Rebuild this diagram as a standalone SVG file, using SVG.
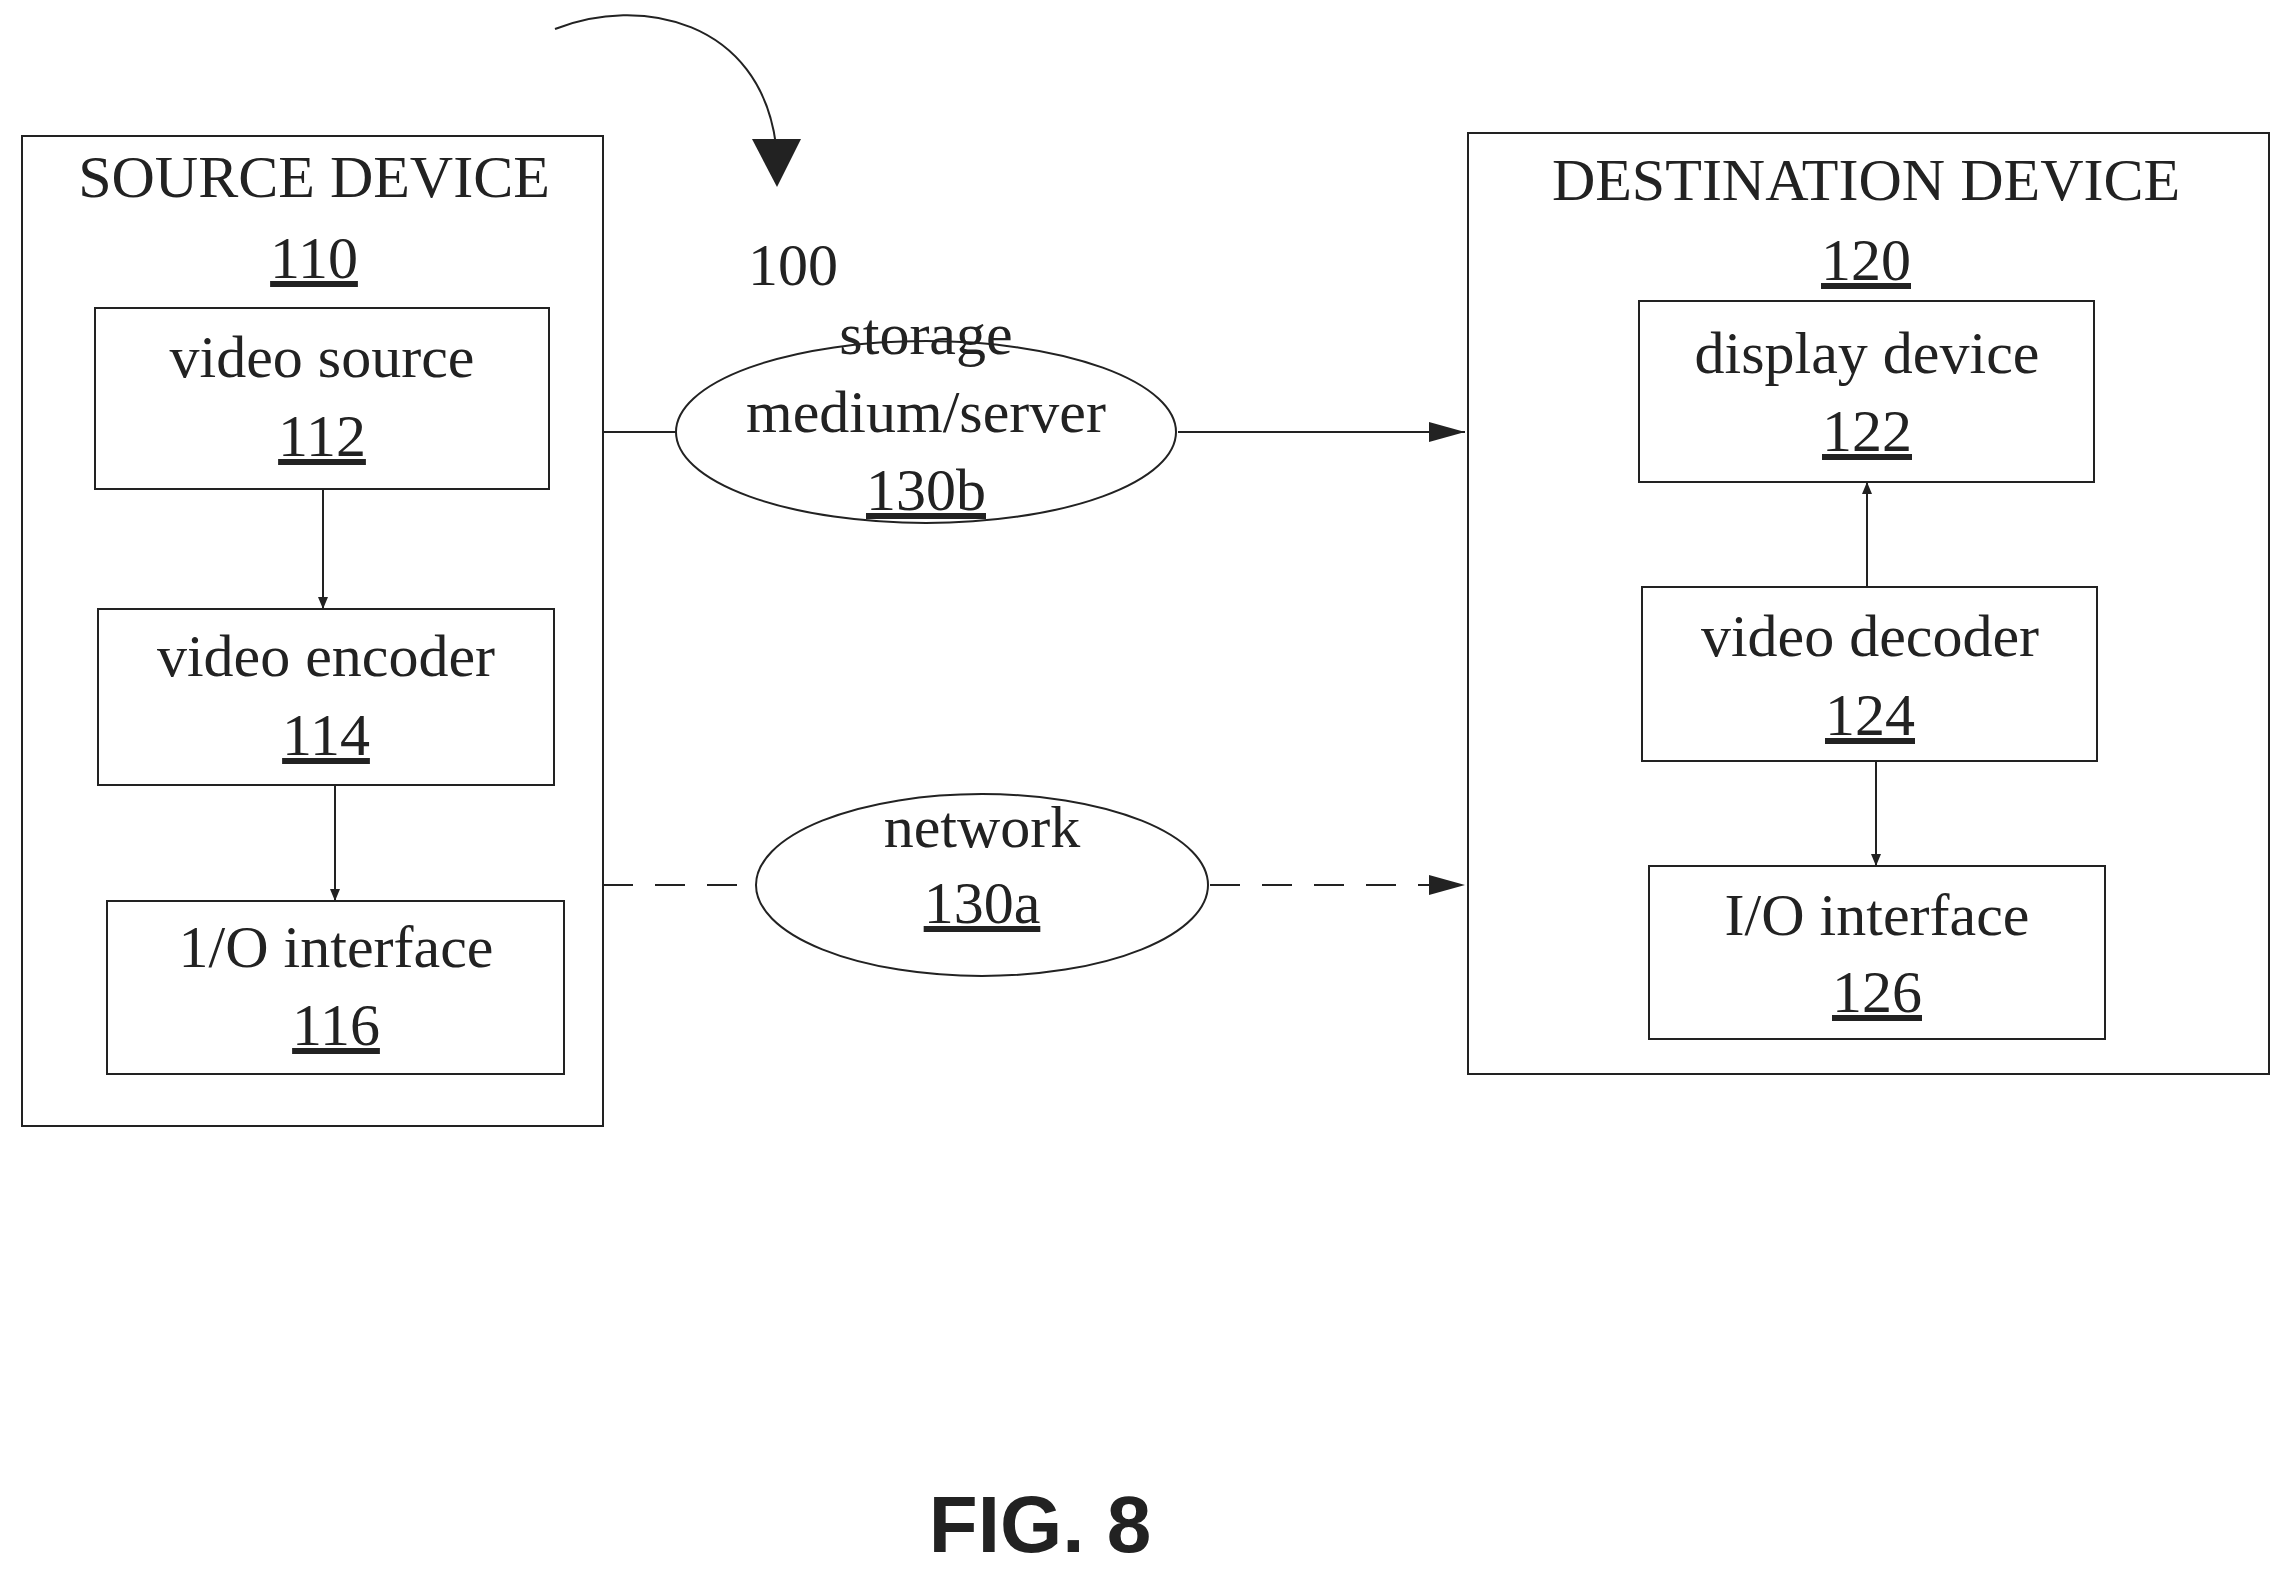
<svg xmlns="http://www.w3.org/2000/svg" width="2291" height="1573" viewBox="0 0 2291 1573">
<style>
.b{fill:none;stroke:#222;stroke-width:2}
.t{font-family:"Liberation Serif",serif;font-size:60px;fill:#222;text-anchor:middle}
.u{text-decoration:underline}
.c{stroke:#222;stroke-width:2;fill:none}
.d{stroke-dasharray:30,22}
</style>
<defs><marker id="a" markerWidth="12" markerHeight="10" refX="12" refY="5" orient="auto" markerUnits="userSpaceOnUse" viewBox="0 0 12 10"><path d="M0,0L12,5L0,10z" fill="#222"/></marker>
<marker id="a2" markerWidth="36" markerHeight="20" refX="36" refY="10" orient="auto" markerUnits="userSpaceOnUse" viewBox="0 0 36 20"><path d="M0,0L36,10L0,20z" fill="#222"/></marker></defs>
<rect width="2291" height="1573" fill="#fff"/>
<g id="source"><rect class="b" x="22" y="136" width="581" height="990"/>
<text class="t" x="314" y="197" font-size="62">SOURCE DEVICE</text><text class="t u" x="314" y="278">110</text></g>
<g id="n112"><rect class="b" x="95" y="308" width="454" height="181"/><text class="t" x="322" y="377">video source</text><text class="t u" x="322" y="456">112</text></g>
<g id="n114"><rect class="b" x="98" y="609" width="456" height="176"/><text class="t" x="326" y="676">video encoder</text><text class="t u" x="326" y="755">114</text></g>
<g id="n116"><rect class="b" x="107" y="901" width="457" height="173"/><text class="t" x="336" y="967">1/O interface</text><text class="t u" x="336" y="1045">116</text></g>
<g id="dest"><rect class="b" x="1468" y="133" width="801" height="941"/>
<text class="t" x="1866" y="200" font-size="62">DESTINATION DEVICE</text><text class="t u" x="1866" y="280">120</text></g>
<g id="n122"><rect class="b" x="1639" y="301" width="455" height="181"/><text class="t" x="1867" y="373">display device</text><text class="t u" x="1867" y="451">122</text></g>
<g id="n124"><rect class="b" x="1642" y="587" width="455" height="174"/><text class="t" x="1870" y="656">video decoder</text><text class="t u" x="1870" y="735">124</text></g>
<g id="n126"><rect class="b" x="1649" y="866" width="456" height="173"/><text class="t" x="1877" y="935">I/O interface</text><text class="t u" x="1877" y="1012">126</text></g>
<g id="n130b"><ellipse class="b" cx="926" cy="432" rx="250" ry="91"/><text class="t" x="926" y="354">storage</text><text class="t" x="926" y="432">medium/server</text><text class="t u" x="926" y="510">130b</text></g>
<g id="n130a"><ellipse class="b" cx="982" cy="885" rx="226" ry="91"/><text class="t" x="982" y="847">network</text><text class="t u" x="982" y="923">130a</text></g>
<g id="label100"><text class="t" x="793" y="285">100</text></g>
<g id="connectors">
<line class="c" x1="323" y1="489" x2="323" y2="609" marker-end="url(#a)"/>
<line class="c" x1="335" y1="785" x2="335" y2="901" marker-end="url(#a)"/>
<line class="c" x1="1867" y1="587" x2="1867" y2="482" marker-end="url(#a)"/>
<line class="c" x1="1876" y1="761" x2="1876" y2="866" marker-end="url(#a)"/>
<line class="c" x1="603" y1="432" x2="677" y2="432"/>
<line class="c" x1="1178" y1="432" x2="1465" y2="432" marker-end="url(#a2)"/>
<line class="c d" x1="603" y1="885" x2="756" y2="885"/>
<line class="c d" x1="1210" y1="885" x2="1465" y2="885" marker-end="url(#a2)"/>
<path class="c" d="M555,29 C640,-5 760,20 776,145"/>
<path d="M752,139L801,139L777,187z" fill="#222"/>
</g>
<text x="1040" y="1552" font-family="Liberation Sans,Arial,sans-serif" font-weight="bold" font-size="80" text-anchor="middle" fill="#222">FIG. 8</text>
</svg>
